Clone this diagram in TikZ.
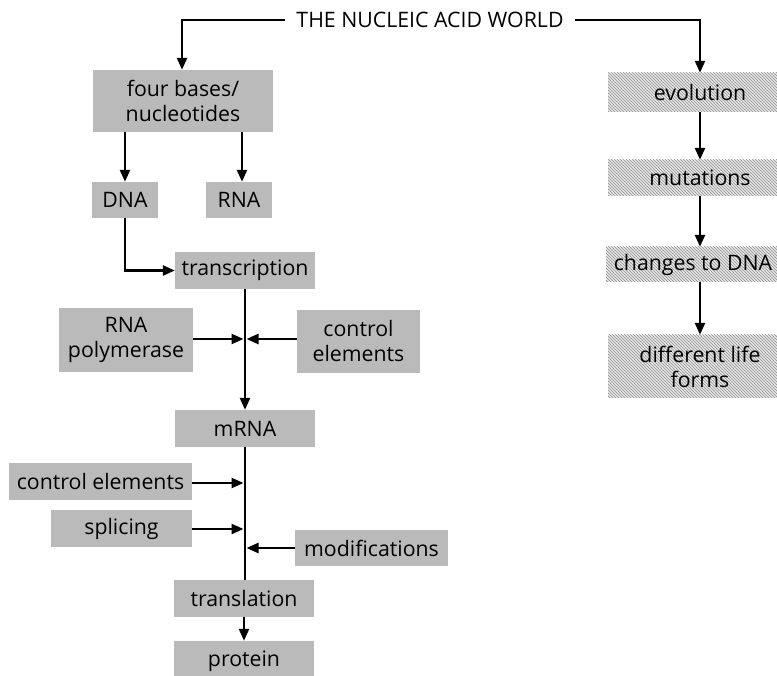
\documentclass[tikz,border=0pt]{standalone}
\usepackage{fontspec}
\setmainfont{Open Sans}
\usetikzlibrary{arrows.meta,patterns}
\tikzset{
  lbox/.style={fill=black!27, inner sep=0pt, align=center, font=\fontsize{21.3}{25}\selectfont},
  rbox/.style={preaction={fill=black!9}, pattern=north west lines, pattern color=black!45, inner sep=0pt, align=center, font=\fontsize{21.3}{25}\selectfont},
  conn/.style={line width=2.5pt},
  arr/.style={line width=2.5pt, -{Triangle[length=12pt,width=10pt]}},
}
\begin{document}
\begin{tikzpicture}[x=1pt,y=-1pt]
\useasboundingbox (0,0) rectangle (777,676);
% title
\node[font=\fontsize{21.3}{25}\selectfont, inner xsep=11pt] (title) at (430,20) {THE NUCLEIC ACID WORLD};
% left column
\node[lbox, minimum width=180pt, minimum height=62pt] (four) at (183,101) {four bases/\\nucleotides};
\node[lbox, minimum width=66pt, minimum height=36pt] (dna) at (125,200) {DNA};
\node[lbox, minimum width=66pt, minimum height=36pt] (rna) at (239,200) {RNA};
\node[lbox, minimum width=140pt, minimum height=37pt] (trans) at (245,270.5) {transcription};
\node[lbox, minimum width=134pt, minimum height=64pt] (poly) at (126,340) {RNA\\polymerase};
\node[lbox, minimum width=123pt, minimum height=63pt] (ctrla) at (358.5,341.5) {control\\elements};
\node[lbox, minimum width=140pt, minimum height=37pt] (mrna) at (245,428.5) {mRNA};
\node[lbox, minimum width=183pt, minimum height=37pt] (ctrlb) at (100.5,481.5) {control elements};
\node[lbox, minimum width=141pt, minimum height=37pt] (splice) at (121.5,528.5) {splicing};
\node[lbox, minimum width=153pt, minimum height=36pt] (modif) at (371.5,548) {modifications};
\node[lbox, minimum width=140pt, minimum height=37pt] (transl) at (244,598.5) {translation};
\node[lbox, minimum width=140pt, minimum height=40pt] (prot) at (244,661) {protein};
% right column
\node[rbox, minimum width=184pt, minimum height=39pt] (evo) at (700,92.5) {evolution};
\node[rbox, minimum width=184pt, minimum height=36pt] (mut) at (700,178) {mutations};
\node[rbox, minimum width=174pt, minimum height=35pt] (chg) at (693,264.5) {changes to DNA};
\node[rbox, minimum width=184pt, minimum height=63pt] (diff) at (700,366.5) {different life\\forms};
% junction points on the main line
\coordinate (j1) at (245,339);
\coordinate (j2) at (245,483);
\coordinate (j3) at (245,529);
\coordinate (j4) at (245,548);
% connectors
\draw[arr] (title.west) -| ([xshift=-1pt]four.north);
\draw[arr] (title.east) -| (evo.north);
\draw[arr] (dna.north |- four.south) -- (dna.north);
\draw[arr] ([xshift=3pt]rna.north |- four.south) -- ([xshift=3pt]rna.north);
\draw[arr] (dna.south) |- (trans.west);
\draw[arr] (trans.south) -- (mrna.north);
\draw[arr] (poly.east |- j1) -- ([xshift=-1.5pt]j1);
\draw[arr] (ctrla.west |- j1) -- ([xshift=1.5pt]j1);
\draw[conn] (mrna.south) -- (mrna.south |- transl.north);
\draw[arr] (ctrlb.east |- j2) -- ([xshift=-1.5pt]j2);
\draw[arr] (splice.east |- j3) -- ([xshift=-1.5pt]j3);
\draw[arr] (modif.west |- j4) -- ([xshift=1.5pt]j4);
\draw[arr] (transl.south) -- (prot.north);
\draw[arr] (evo.south) -- (mut.north);
\draw[arr] (mut.south) -- (mut.south |- chg.north);
\draw[arr] (diff.north |- chg.south) -- (diff.north);
\end{tikzpicture}
\end{document}
